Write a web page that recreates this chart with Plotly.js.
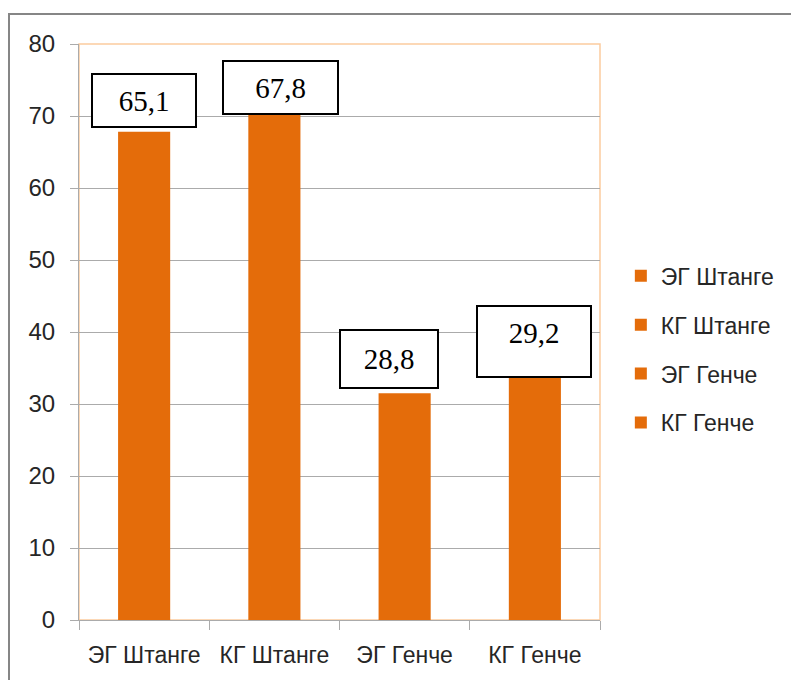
<!DOCTYPE html>
<html>
<head>
<meta charset="utf-8">
<script src="https://cdn.plot.ly/plotly-3.0.1.min.js"></script>
<style>
  html, body { margin: 0; padding: 0; background: #fff; }
  #wrap { position: relative; width: 791px; height: 680px; overflow: hidden; }
  #chart { width: 791px; height: 680px; }
  #frame { position: absolute; left: 8px; top: 13px; width: 800px; height: 700px;
           border-left: 2px solid #868686; border-top: 2px solid #868686; pointer-events: none; }
</style>
</head>
<body>
<div id="wrap">
  <div id="chart"></div>
  <div id="frame"></div>
</div>
<script>
// ---- data ----
var categories = ['ЭГ Штанге', 'КГ Штанге', 'ЭГ Генче', 'КГ Генче'];
var barValues = [67.8, 70.5, 31.5, 34.0];
var labelTexts = ['65,1', '67,8', '28,8', '29,2'];
var yTickVals = [0, 10, 20, 30, 40, 50, 60, 70, 80];

// ---- styles ----
var barColor = '#E46C0A';
var gridColor = '#ABABAB';
var textColor = '#262626';
var sansFont = 'Liberation Sans, Arial, sans-serif';

var traces = categories.map(function (c, i) {
  return {
    type: 'bar',
    x: [c],
    y: [barValues[i]],
    name: c,
    legendgroup: 'g' + i,
    marker: { color: barColor },
    hoverinfo: 'x+y'
  };
});

// label box placement (layout only)
var boxCfg = [
  { y: 72.2, xshift: 0, w: 102, h: 51, valign: 'middle', pad: 0 },
  { y: 74.0, xshift: 6, w: 113, h: 51, valign: 'middle', pad: 0 },
  { y: 36.3, xshift: -16, w: 96, h: 56, valign: 'middle', pad: 0 },
  { y: 38.65, xshift: -1, w: 92, h: 49, valign: 'top', pad: 10 }
];

var annotations = labelTexts.map(function (t, i) {
  var b = boxCfg[i];
  return {
    xref: 'x', yref: 'y',
    x: categories[i], y: b.y,
    xshift: b.xshift,
    text: t,
    showarrow: false,
    xanchor: 'center', yanchor: 'middle',
    width: b.w, height: b.h,
    valign: b.valign,
    borderpad: b.pad,
    bgcolor: '#ffffff',
    bordercolor: '#000000',
    borderwidth: 2,
    font: { family: 'Liberation Serif, Times New Roman, serif', size: 29, color: '#000000' }
  };
});

var layout = {
  width: 791, height: 680,
  margin: { l: 79, r: 191, t: 44, b: 60, pad: 0 },
  paper_bgcolor: '#ffffff',
  plot_bgcolor: '#ffffff',
  barmode: 'overlay',
  bargap: 0.6,
  showlegend: true,
  legend: {
    x: 1.04, xanchor: 'left',
    y: 0.47, yanchor: 'middle',
    tracegroupgap: 16,
    font: { family: sansFont, size: 23, color: textColor },
    bgcolor: 'rgba(0,0,0,0)'
  },
  xaxis: {
    type: 'category',
    showline: true, linecolor: gridColor, linewidth: 1,
    ticks: 'outside', tickson: 'boundaries', ticklen: 9, tickcolor: gridColor,
    showgrid: false,
    tickfont: { family: sansFont, size: 23, color: textColor },
    ticklabelstandoff: 14,
    fixedrange: true
  },
  yaxis: {
    range: [0, 80],
    tickvals: yTickVals,
    ticktext: yTickVals.map(String),
    showline: true, linecolor: gridColor, linewidth: 1,
    ticks: 'outside', ticklen: 8, tickcolor: gridColor,
    showgrid: true, gridcolor: gridColor, gridwidth: 1,
    zeroline: false,
    tickfont: { family: sansFont, size: 24, color: textColor },
    ticklabelstandoff: 10,
    fixedrange: true
  },
  shapes: [{
    type: 'rect', xref: 'paper', yref: 'paper',
    x0: 0, x1: 1, y0: 0, y1: 1,
    line: { color: '#FCCB9E', width: 1.5 },
    layer: 'below'
  }],
  annotations: annotations
};

Plotly.newPlot('chart', traces, layout, { displayModeBar: false, staticPlot: true });
</script>
</body>
</html>
